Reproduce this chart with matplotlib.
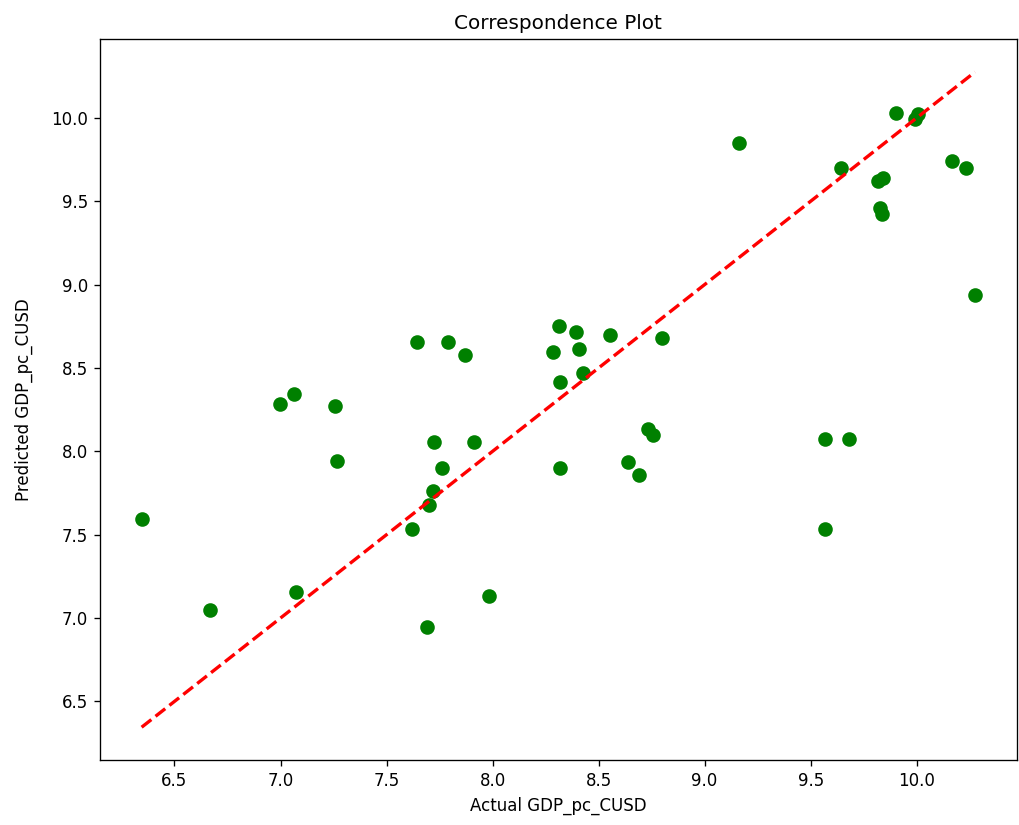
import numpy as np
import matplotlib
matplotlib.use("Agg")
import matplotlib.pyplot as plt

# actual vs predicted GDP per capita (log, current USD)
actual = [7.642, 7.792, 7.064, 6.998, 7.259, 7.723, 7.265, 7.762, 7.721, 7.700,
          6.345, 7.620, 7.072, 6.669, 7.690, 7.870, 8.314, 8.392, 8.553, 8.798,
          8.285, 8.408, 8.427, 8.320, 7.911, 8.320, 8.735, 8.757, 8.641, 8.690,
          7.983, 9.160, 9.903, 10.004, 9.993, 9.642, 10.166, 10.232, 9.817, 9.843,
          9.829, 9.836, 10.275, 9.568, 9.682, 9.568]
predicted = [8.655, 8.655, 8.345, 8.285, 8.269, 8.055, 7.943, 7.902, 7.759, 7.680,
             7.593, 7.533, 7.155, 7.046, 6.944, 8.579, 8.749, 8.715, 8.699, 8.681,
             8.595, 8.611, 8.469, 8.413, 8.055, 7.902, 8.133, 8.097, 7.935, 7.860,
             7.131, 9.851, 10.031, 10.025, 9.995, 9.699, 9.741, 9.699, 9.621, 9.637,
             9.459, 9.421, 8.935, 8.071, 8.071, 7.536]

fig = plt.figure(figsize=(1019 / 120, 825 / 120), dpi=120)
ax = fig.add_axes([0.0981, 0.0788, 0.8996, 0.8736])

ax.scatter(actual, predicted, color='green', s=60)
lo, hi = min(actual), max(actual)
ax.plot([lo, hi], [lo, hi], 'r--', lw=2)

ax.set_title('Correspondence Plot')
ax.set_xlabel('Actual GDP_pc_CUSD')
ax.set_ylabel('Predicted GDP_pc_CUSD', labelpad=11)

fig.savefig('out.png', dpi=120)
